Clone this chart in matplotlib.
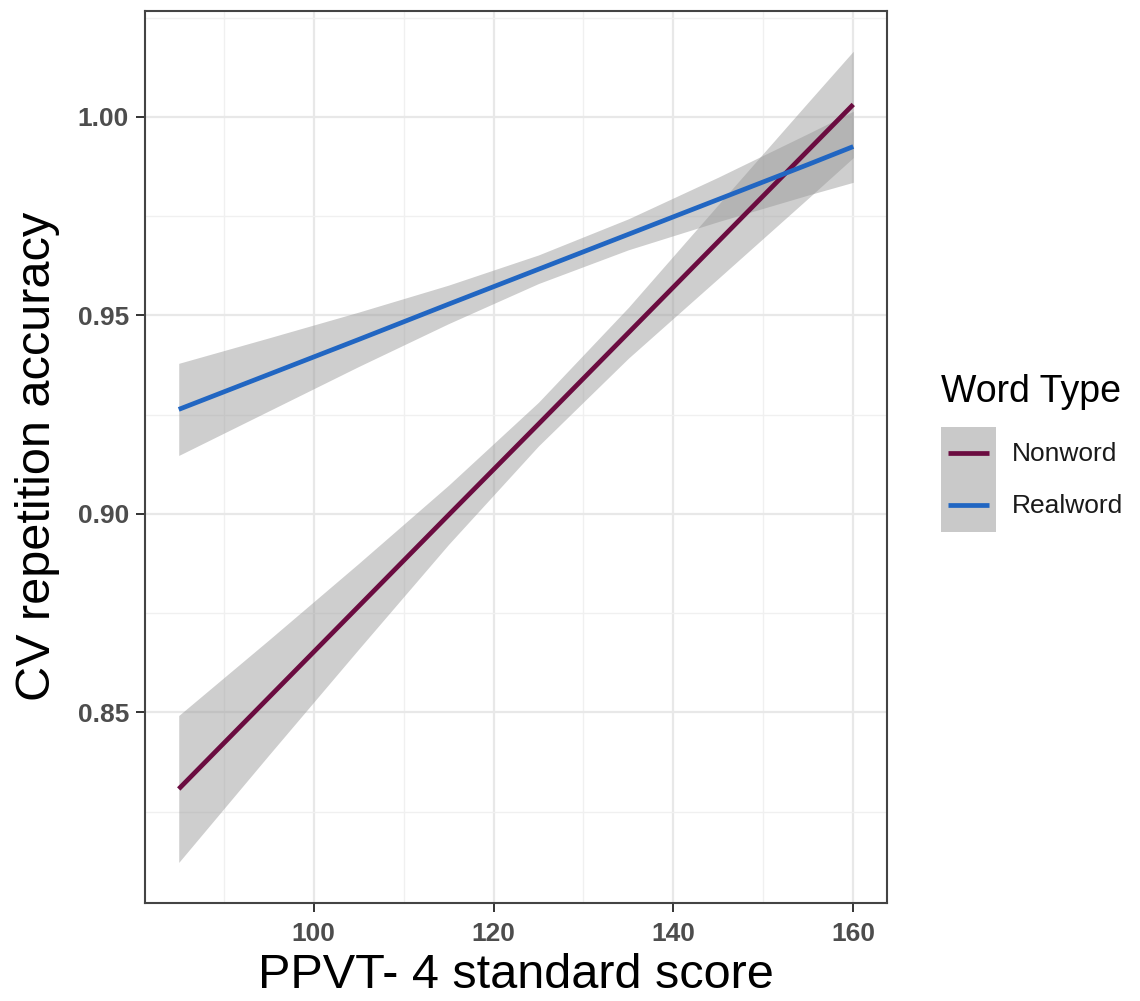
import matplotlib
matplotlib.use("Agg")
import matplotlib.pyplot as plt
from matplotlib.patches import Rectangle
from matplotlib.lines import Line2D
from matplotlib.legend_handler import HandlerBase
from matplotlib.ticker import FixedLocator

plt.rcParams['font.family'] = ['Liberation Sans', 'DejaVu Sans']

# ---- data ----
word_types = ["Nonword", "Realword"]
line_colors = ["#6b0c40", "#2166c2"]

x_vals = [85, 95, 105, 115, 125, 135, 145, 155, 160]

nonword_fit   = [0.8307, 0.8537, 0.8767, 0.8997, 0.9226, 0.9456, 0.9686, 0.9916, 1.0031]
nonword_lower = [0.8122, 0.8392, 0.8659, 0.8923, 0.9171, 0.9392, 0.9593, 0.9795, 0.9897]
nonword_upper = [0.8492, 0.8682, 0.8875, 0.9072, 0.9281, 0.9520, 0.9779, 1.0037, 1.0165]

realword_fit   = [0.9263, 0.9351, 0.9439, 0.9528, 0.9616, 0.9704, 0.9792, 0.9880, 0.9925]
realword_lower = [0.9147, 0.9259, 0.9371, 0.9479, 0.9580, 0.9665, 0.9736, 0.9803, 0.9835]
realword_upper = [0.9379, 0.9443, 0.9508, 0.9576, 0.9652, 0.9743, 0.9848, 0.9958, 1.0014]

x_ticks = [100, 120, 140, 160]
x_minor = [90, 110, 130, 150]
y_ticks = [0.85, 0.90, 0.95, 1.00]
y_tick_labels = ["0.85", "0.90", "0.95", "1.00"]
y_minor = [0.825, 0.875, 0.925, 0.975, 1.025]

x_title = "PPVT- 4 standard score"
y_title = "CV repetition accuracy"
legend_title = "Word Type"

fits = [nonword_fit, realword_fit]
lowers = [nonword_lower, realword_lower]
uppers = [nonword_upper, realword_upper]

LW = 3.4

# ---- figure ----
fig = plt.figure(figsize=(11.40, 10.01), dpi=100)
ax = fig.add_axes([145/1140, 1 - 903/1001, (887-145)/1140, (903-10.7)/1001])

ribbon_color = "#999999"
for lo, up in zip(lowers, uppers):
    ax.fill_between(x_vals, lo, up, color=ribbon_color, alpha=0.48, linewidth=0, zorder=2)
for fit, col in zip(fits, line_colors):
    ax.plot(x_vals, fit, color=col, linewidth=LW, solid_capstyle='butt', zorder=3)

# limits with ggplot-like 5% expansion
xmin, xmax = min(x_vals), max(x_vals)
xr = xmax - xmin
ax.set_xlim(xmin - 0.05*xr, xmax + 0.05*xr)
all_y = nonword_lower + nonword_upper + realword_lower + realword_upper
ymin, ymax = min(all_y), max(all_y)
yr = ymax - ymin
ax.set_ylim(ymin - 0.05*yr, ymax + 0.05*yr)

ax.xaxis.set_major_locator(FixedLocator(x_ticks))
ax.xaxis.set_minor_locator(FixedLocator(x_minor))
ax.yaxis.set_major_locator(FixedLocator(y_ticks))
ax.yaxis.set_minor_locator(FixedLocator(y_minor))
ax.set_yticklabels(y_tick_labels)

ax.grid(which='major', color='#e8e8e8', linewidth=1.6, zorder=0)
ax.grid(which='minor', color='#f0f0f0', linewidth=1.0, zorder=0)
ax.set_axisbelow(True)

for sp in ax.spines.values():
    sp.set_color('#444444')
    sp.set_linewidth(1.5)

ax.tick_params(which='major', direction='out', length=6.5, width=1.4, color='#333333',
               labelsize=19, labelcolor='#4d4d4d', pad=5)
ax.tick_params(axis='x', which='major', pad=7)
ax.tick_params(which='minor', length=0)
for lab in ax.get_xticklabels() + ax.get_yticklabels():
    lab.set_fontweight('bold')

ax.set_xlabel(x_title, fontsize=35, color='black')
ax.set_ylabel(y_title, fontsize=35, color='black')
ax.xaxis.set_label_coords(0.5, (903 - 953) / 892.3)
ax.yaxis.set_label_coords((60 - 145) / 742, 0.5)


# legend key: grey square with an inset coloured line
class KeyHandler(HandlerBase):
    def create_artists(self, legend, orig_handle, xdescent, ydescent,
                       width, height, fontsize, trans):
        rect = Rectangle((-xdescent, -ydescent), width, height,
                         facecolor='#c9c9c9', edgecolor='none', transform=trans)
        y = -ydescent + height / 2
        line = Line2D([-xdescent + 0.12*width, -xdescent + 0.88*width], [y, y],
                      color=orig_handle.get_color(), linewidth=LW,
                      solid_capstyle='butt', transform=trans)
        return [rect, line]


handles = [Line2D([], [], color=c) for c in line_colors]
leg = fig.legend(handles, word_types,
                 handler_map={Line2D: KeyHandler()},
                 loc='upper left', bbox_to_anchor=(941/1140, 1 - 374/1001),
                 frameon=False, fontsize=19, title=legend_title, title_fontsize=27,
                 handlelength=2.08, handleheight=2.68, labelspacing=0.0,
                 handletextpad=0.6, borderpad=0, borderaxespad=0, alignment='left')
leg._legend_box.sep = 12
leg.get_title().set_color('black')
for t in leg.get_texts():
    t.set_color('#1a1a1a')

fig.savefig("out.png", dpi=100, facecolor='white')
